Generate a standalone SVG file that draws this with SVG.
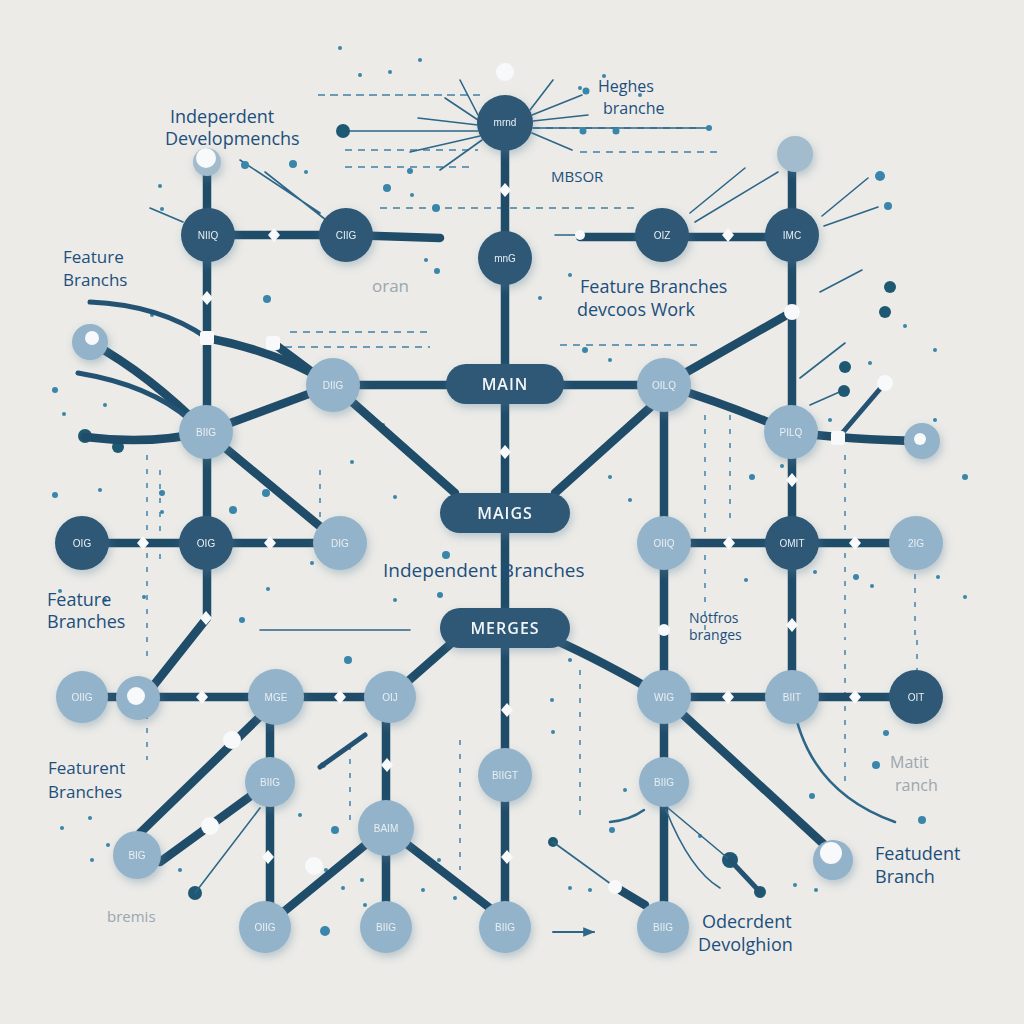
<svg xmlns="http://www.w3.org/2000/svg" width="1024" height="1024" viewBox="0 0 1024 1024">
<style>
.ln{fill:none;stroke:#1f4c69;stroke-width:8.5;stroke-linecap:round;stroke-linejoin:round}
.lm{fill:none;stroke:#245272;stroke-width:5;stroke-linecap:round}
.th{fill:none;stroke:#2c6688;stroke-width:1.6;stroke-linecap:round}
.ds{fill:none;stroke:#3f80a6;stroke-width:1.6;stroke-dasharray:7 6}
.dv{fill:none;stroke:#4a8ab0;stroke-width:1.6;stroke-dasharray:5 9}
.dk{fill:#2d5875}
.lt{fill:#93b3ca}
.lg{fill:#a3bccd}
.wd{fill:#f7f9fa}
.dot{fill:#3a86ab}
.dd{fill:#1f5873}
.nl{font-family:"Liberation Sans",Arial,sans-serif;font-size:10px;fill:#e9eff3;text-anchor:middle}
.pl{font-family:"Open Sans",sans-serif;font-size:16px;font-weight:600;fill:#f2f6f8;text-anchor:middle;letter-spacing:1px}
.lb{font-family:"Open Sans",sans-serif;font-size:18px;fill:#1c4f7d}
.gr{font-family:"Open Sans",sans-serif;font-size:17px;fill:#9aa7b0}
</style>
<defs>
<filter id="sh" x="-40%" y="-40%" width="180%" height="180%"><feDropShadow dx="2" dy="4" stdDeviation="4" flood-color="#5a7f98" flood-opacity="0.35"/></filter>
<marker id="ar" viewBox="0 0 10 10" refX="9" refY="5" markerWidth="6" markerHeight="6" orient="auto"><path d="M0,1 L10,5 L0,9 z" fill="#2c6688"/></marker>
<path id="dia" d="M0,-7 L6,0 L0,7 L-6,0 z" fill="#f8fafb"/>
</defs>
<rect width="1024" height="1024" fill="#ecebe7"/>

<g id="decor">
<path class="ds" d="M318,95 H480 M345,150 H478 M345,167 H470 M380,208 H640 M580,152 H720 M520,128 H700 M290,332 H430 M285,347 H430 M560,345 H700 M330,95 H480"/>
<path class="dv" d="M147,455 V660 M160,470 V560 M147,700 V760 M705,415 V630 M730,415 V520 M845,455 V640 M915,560 V640 M580,670 V820 M845,650 V790 M917,640 V700 M350,745 V820 M460,740 V870 M320,470 V520"/>
<path class="th" d="M478,115 L460,80 M478,120 L445,98 M478,125 L418,118 M478,131 L343,131 M480,136 L410,152 M482,140 L440,170 M530,110 L553,80 M532,115 L582,95 M533,121 L588,115 M533,128 L710,128 M532,133 L572,150 M320,213 L240,160 M326,220 L265,172 M183,222 L150,208 M690,213 L745,168 M695,222 L778,172 M822,216 L868,178 M824,226 L878,207 M820,292 L862,270 M800,378 L845,343 M810,405 L844,390 M260,630 H410 M555,235 L580,235"/>
<circle class="dd" cx="343" cy="131" r="7"/>
<circle class="dot" cx="583" cy="131" r="3.5"/><circle class="dot" cx="616" cy="131" r="3.5"/><circle class="dot" cx="709" cy="128" r="3"/>
<circle class="dot" cx="586" cy="91" r="3.5"/>
<circle class="dd" cx="890" cy="287" r="6"/><circle class="dd" cx="885" cy="312" r="6"/>
<circle class="dd" cx="845" cy="367" r="6"/><circle class="dd" cx="844" cy="391" r="6"/>
<circle class="dot" cx="880" cy="176" r="5"/><circle class="dot" cx="888" cy="206" r="4"/>
<circle class="dot" cx="245" cy="165" r="4"/><circle class="dot" cx="293" cy="164" r="4"/>
<circle class="dd" cx="85" cy="436" r="7"/><circle class="dd" cx="118" cy="447" r="6"/>
<circle class="dd" cx="195" cy="893" r="7"/><circle class="dd" cx="730" cy="860" r="8"/><circle class="dd" cx="760" cy="892" r="6"/>
<circle class="dd" cx="553" cy="842" r="5"/>
<g class="dot">
<circle cx="340" cy="48" r="2"/><circle cx="360" cy="75" r="2"/><circle cx="390" cy="72" r="2"/><circle cx="420" cy="60" r="2"/><circle cx="580" cy="88" r="2"/><circle cx="604" cy="76" r="2"/><circle cx="640" cy="95" r="2"/>
<circle cx="293" cy="164" r="3"/><circle cx="306" cy="172" r="2"/><circle cx="410" cy="171" r="3"/><circle cx="387" cy="188" r="4"/><circle cx="412" cy="195" r="2"/><circle cx="436" cy="208" r="4"/><circle cx="160" cy="186" r="2"/><circle cx="162" cy="209" r="2"/>
<circle cx="437" cy="271" r="3"/><circle cx="267" cy="299" r="4"/><circle cx="152" cy="315" r="2"/><circle cx="426" cy="260" r="2"/><circle cx="540" cy="298" r="2"/><circle cx="570" cy="275" r="2"/>
<circle cx="55" cy="390" r="3"/><circle cx="64" cy="414" r="2"/><circle cx="105" cy="405" r="2"/><circle cx="131" cy="439" r="2"/><circle cx="55" cy="495" r="3"/><circle cx="100" cy="490" r="2"/>
<circle cx="162" cy="493" r="3"/><circle cx="162" cy="512" r="2"/><circle cx="163" cy="545" r="2"/><circle cx="233" cy="510" r="4"/><circle cx="266" cy="493" r="4"/><circle cx="278" cy="492" r="2"/><circle cx="352" cy="462" r="2"/><circle cx="383" cy="425" r="2"/><circle cx="395" cy="497" r="2"/>
<circle cx="585" cy="350" r="3"/><circle cx="610" cy="360" r="2"/><circle cx="752" cy="477" r="3"/><circle cx="782" cy="466" r="2"/><circle cx="830" cy="420" r="2"/><circle cx="870" cy="363" r="2"/><circle cx="935" cy="420" r="2"/><circle cx="965" cy="477" r="3"/><circle cx="905" cy="326" r="2"/><circle cx="935" cy="350" r="2"/>
<circle cx="60" cy="591" r="2"/><circle cx="105" cy="600" r="2"/><circle cx="144" cy="597" r="2"/><circle cx="242" cy="620" r="3"/><circle cx="268" cy="589" r="2"/><circle cx="312" cy="563" r="2"/><circle cx="348" cy="660" r="4"/><circle cx="395" cy="600" r="2"/><circle cx="440" cy="595" r="3"/><circle cx="446" cy="555" r="4"/>
<circle cx="610" cy="477" r="2"/><circle cx="630" cy="500" r="2"/><circle cx="570" cy="660" r="2"/><circle cx="552" cy="700" r="2"/><circle cx="553" cy="732" r="2"/><circle cx="625" cy="790" r="2"/><circle cx="612" cy="830" r="3"/>
<circle cx="746" cy="580" r="2"/><circle cx="815" cy="572" r="2"/><circle cx="856" cy="577" r="3"/><circle cx="872" cy="586" r="2"/><circle cx="938" cy="577" r="2"/><circle cx="965" cy="597" r="2"/><circle cx="886" cy="733" r="3"/><circle cx="876" cy="765" r="4"/><circle cx="922" cy="820" r="4"/><circle cx="812" cy="796" r="3"/><circle cx="816" cy="890" r="2"/><circle cx="795" cy="885" r="2"/>
<circle cx="90" cy="818" r="2"/><circle cx="92" cy="860" r="2"/><circle cx="108" cy="845" r="2"/><circle cx="62" cy="828" r="2"/><circle cx="180" cy="870" r="2"/><circle cx="300" cy="815" r="2"/><circle cx="323" cy="765" r="3"/><circle cx="326" cy="870" r="2"/><circle cx="335" cy="830" r="4"/><circle cx="362" cy="880" r="2"/><circle cx="365" cy="905" r="2"/><circle cx="343" cy="888" r="2"/><circle cx="325" cy="931" r="5"/><circle cx="423" cy="890" r="2"/><circle cx="439" cy="860" r="2"/><circle cx="455" cy="898" r="2"/>
<circle cx="570" cy="888" r="2"/><circle cx="590" cy="890" r="2"/><circle cx="700" cy="836" r="2"/>
</g>
</g>

<g id="connectors">
<path class="ln" d="M505,123 V927"/>
<path class="ln" d="M207,160 V543"/>
<path class="ln" d="M207,543 V618 L150,690"/>
<path class="ln" d="M664,385 V927"/>
<path class="ln" d="M792,153 V697"/>
<path class="ln" d="M82,543 H340"/>
<path class="ln" d="M664,543 H916"/>
<path class="ln" d="M82,697 H390"/>
<path class="ln" d="M664,697 H916"/>
<path class="ln" d="M208,235 H346 L440,238"/>
<path class="ln" d="M580,237 H792"/>
<path class="ln" d="M207,338 Q280,352 333,385"/>
<path class="ln" d="M273,343 L320,378"/>
<path class="ln" d="M333,385 L206,432"/>
<path class="ln" d="M333,385 H447"/>
<path class="ln" d="M333,385 L455,493"/>
<path class="ln" d="M563,385 H664"/>
<path class="ln" d="M664,385 L792,312"/>
<path class="ln" d="M664,385 Q730,405 791,432"/>
<path class="ln" d="M555,493 L664,395"/>
<path class="ln" d="M791,432 Q850,440 922,441"/>
<path class="lm" d="M838,438 L885,383"/>
<path class="ln" d="M206,432 L340,543"/>
<path class="ln" d="M85,437 Q150,445 206,432"/>
<path class="ln" d="M90,342 Q150,375 206,432"/>
<path class="lm" d="M78,373 Q150,385 190,420"/>
<path class="lm" d="M90,302 Q160,305 207,338"/>
<path class="ln" d="M455,640 L390,697"/>
<path class="ln" d="M555,640 Q600,660 664,697"/>
<path class="ln" d="M664,697 L830,850"/>
<path class="ln" d="M140,833 L272,705"/>
<path class="ln" d="M160,862 L252,795"/>
<path class="ln" d="M270,697 V927"/>
<path class="ln" d="M386,697 V927"/>
<path class="ln" d="M265,927 L386,828"/>
<path class="ln" d="M386,828 L495,912"/>
<path class="lm" d="M320,767 L365,735"/>
<path class="th" d="M195,893 L260,808"/>
<path class="th" d="M792,697 Q805,790 895,822" style="stroke-width:2.5"/>
<path class="th" d="M668,808 L730,860"/>
<path class="lm" d="M730,860 L760,892"/>
<path class="th" d="M666,810 Q690,870 720,888"/>
<path class="th" d="M644,810 Q630,820 610,822" style="stroke-width:2.5"/>
<path class="th" d="M553,842 L615,887"/>
<path class="ln" d="M615,887 L645,905"/>
<path class="th" d="M553,932 L594,932" style="stroke-width:2" marker-end="url(#ar)"/>
<use href="#dia" x="505" y="190"/><use href="#dia" x="207" y="298"/><use href="#dia" x="274" y="235"/><use href="#dia" x="728" y="235"/>
<use href="#dia" x="505" y="452"/><use href="#dia" x="206" y="618"/><use href="#dia" x="270" y="543"/><use href="#dia" x="143" y="543"/>
<use href="#dia" x="202" y="697"/><use href="#dia" x="340" y="697"/><use href="#dia" x="387" y="765"/><use href="#dia" x="507" y="710"/>
<use href="#dia" x="507" y="857"/><use href="#dia" x="268" y="857"/><use href="#dia" x="728" y="697"/><use href="#dia" x="855" y="697"/>
<use href="#dia" x="729" y="543"/><use href="#dia" x="855" y="543"/><use href="#dia" x="792" y="480"/><use href="#dia" x="792" y="625"/>
<rect x="200" y="331" width="14" height="14" rx="3" class="wd"/><rect x="266" y="336" width="14" height="14" rx="3" class="wd"/><rect x="831" y="431" width="14" height="14" rx="3" class="wd"/>
<circle class="wd" cx="664" cy="630" r="6"/><circle class="wd" cx="792" cy="312" r="8"/><circle class="wd" cx="885" cy="383" r="8"/><circle class="wd" cx="615" cy="887" r="7"/>
<circle class="wd" cx="210" cy="826" r="9"/><circle class="wd" cx="232" cy="740" r="9"/><circle class="wd" cx="314" cy="866" r="9"/><circle class="wd" cx="580" cy="235" r="5"/>
<circle class="wd" cx="505" cy="72" r="9"/>
</g>

<g id="n1" filter="url(#sh)"><circle class="dk" cx="505" cy="123" r="28"/><text class="nl" x="505" y="126">mrnd</text></g>
<g id="n2" filter="url(#sh)"><circle class="dk" cx="208" cy="235" r="27"/><text class="nl" x="208" y="239">NIIQ</text></g>
<g id="n3" filter="url(#sh)"><circle class="dk" cx="346" cy="235" r="27"/><text class="nl" x="346" y="239">CIIG</text></g>
<g id="n4" filter="url(#sh)"><circle class="dk" cx="505" cy="258" r="27"/><text class="nl" x="505" y="262">mnG</text></g>
<g id="n5" filter="url(#sh)"><circle class="dk" cx="662" cy="235" r="27"/><text class="nl" x="662" y="239">OIZ</text></g>
<g id="n6" filter="url(#sh)"><circle class="dk" cx="792" cy="235" r="27"/><text class="nl" x="792" y="239">IMC</text></g>
<g id="n7" filter="url(#sh)"><circle class="lg" cx="795" cy="154" r="18"/></g>
<g id="n8" filter="url(#sh)"><circle class="lg" cx="207" cy="162" r="14"/><circle class="wd" cx="206" cy="158" r="10"/></g>
<g id="n9" filter="url(#sh)"><circle class="lt" cx="333" cy="385" r="27"/><text class="nl" x="333" y="389">DIIG</text></g>
<g id="n10" filter="url(#sh)"><circle class="lt" cx="206" cy="432" r="27"/><text class="nl" x="206" y="436">BIIG</text></g>
<g id="n11" filter="url(#sh)"><circle class="lt" cx="664" cy="385" r="27"/><text class="nl" x="664" y="389">OILQ</text></g>
<g id="n12" filter="url(#sh)"><circle class="lt" cx="791" cy="432" r="27"/><text class="nl" x="791" y="436">PILQ</text></g>
<g id="n13" filter="url(#sh)"><circle class="lt" cx="922" cy="441" r="18"/><circle class="wd" cx="920" cy="439" r="6"/></g>
<g id="n14" filter="url(#sh)"><circle class="lt" cx="90" cy="342" r="18"/><circle class="wd" cx="92" cy="338" r="7"/></g>
<g id="n15" filter="url(#sh)"><circle class="dk" cx="82" cy="543" r="27"/><text class="nl" x="82" y="547">OIG</text></g>
<g id="n16" filter="url(#sh)"><circle class="dk" cx="206" cy="543" r="27"/><text class="nl" x="206" y="547">OIG</text></g>
<g id="n17" filter="url(#sh)"><circle class="lt" cx="340" cy="543" r="27"/><text class="nl" x="340" y="547">DIG</text></g>
<g id="n18" filter="url(#sh)"><circle class="lt" cx="664" cy="543" r="27"/><text class="nl" x="664" y="547">OIIQ</text></g>
<g id="n19" filter="url(#sh)"><circle class="dk" cx="792" cy="543" r="27"/><text class="nl" x="792" y="547">OMIT</text></g>
<g id="n20" filter="url(#sh)"><circle class="lt" cx="916" cy="543" r="27"/><text class="nl" x="916" y="547">2IG</text></g>
<g id="n21" filter="url(#sh)"><circle class="lt" cx="82" cy="697" r="26"/><text class="nl" x="82" y="701">OIIG</text></g>
<g id="n22" filter="url(#sh)"><circle class="lt" cx="138" cy="698" r="22"/><circle class="wd" cx="136" cy="696" r="9"/></g>
<g id="n23" filter="url(#sh)"><circle class="lt" cx="276" cy="697" r="28"/><text class="nl" x="276" y="701">MGE</text></g>
<g id="n24" filter="url(#sh)"><circle class="lt" cx="390" cy="697" r="26"/><text class="nl" x="390" y="701">OIJ</text></g>
<g id="n25" filter="url(#sh)"><circle class="lt" cx="664" cy="697" r="27"/><text class="nl" x="664" y="701">WIG</text></g>
<g id="n26" filter="url(#sh)"><circle class="lt" cx="792" cy="697" r="27"/><text class="nl" x="792" y="701">BIIT</text></g>
<g id="n27" filter="url(#sh)"><circle class="dk" cx="916" cy="697" r="27"/><text class="nl" x="916" y="701">OIT</text></g>
<g id="n28" filter="url(#sh)"><circle class="lt" cx="505" cy="775" r="27"/><text class="nl" x="505" y="779">BIIGT</text></g>
<g id="n29" filter="url(#sh)"><circle class="lt" cx="270" cy="782" r="25"/><text class="nl" x="270" y="786">BIIG</text></g>
<g id="n30" filter="url(#sh)"><circle class="lt" cx="664" cy="782" r="25"/><text class="nl" x="664" y="786">BIIG</text></g>
<g id="n31" filter="url(#sh)"><circle class="lt" cx="137" cy="855" r="24"/><text class="nl" x="137" y="859">BIG</text></g>
<g id="n32" filter="url(#sh)"><circle class="lt" cx="386" cy="828" r="28"/><text class="nl" x="386" y="832">BAIM</text></g>
<g id="n33" filter="url(#sh)"><circle class="lt" cx="833" cy="860" r="20"/><circle class="wd" cx="831" cy="853" r="11"/></g>
<g id="n34" filter="url(#sh)"><circle class="lt" cx="265" cy="927" r="26"/><text class="nl" x="265" y="931">OIIG</text></g>
<g id="n35" filter="url(#sh)"><circle class="lt" cx="386" cy="927" r="26"/><text class="nl" x="386" y="931">BIIG</text></g>
<g id="n36" filter="url(#sh)"><circle class="lt" cx="505" cy="927" r="26"/><text class="nl" x="505" y="931">BIIG</text></g>
<g id="n37" filter="url(#sh)"><circle class="lt" cx="663" cy="927" r="26"/><text class="nl" x="663" y="931">BIIG</text></g>
<g id="p1" filter="url(#sh)"><rect class="dk" x="446" y="364" width="118" height="40" rx="20"/><text class="pl" x="505" y="390">MAIN</text></g>
<g id="p2" filter="url(#sh)"><rect class="dk" x="440" y="493" width="130" height="40" rx="20"/><text class="pl" x="505" y="519">MAIGS</text></g>
<g id="p3" filter="url(#sh)"><rect class="dk" x="440" y="608" width="130" height="40" rx="20"/><text class="pl" x="505" y="634">MERGES</text></g>

<g id="labels">
<text class="lb" x="170" y="123">Indeperdent</text>
<text class="lb" x="165" y="145">Developmenchs</text>
<text class="lb" x="598" y="92" style="font-size:16px">Heghes</text>
<text class="lb" x="603" y="114" style="font-size:16px">branche</text>
<text class="lb" x="551" y="182" style="font-size:15px">MBSOR</text>
<text class="gr" x="372" y="292">oran</text>
<text class="lb" x="580" y="293">Feature Branches</text>
<text class="lb" x="577" y="316">devcoos Work</text>
<text class="lb" x="63" y="263" style="font-size:17px">Feature</text>
<text class="lb" x="63" y="286" style="font-size:17px">Branchs</text>
<text class="lb" x="383" y="577" style="font-size:19px">Independent Branches</text>
<text class="lb" x="47" y="606">Feature</text>
<text class="lb" x="47" y="628">Branches</text>
<text class="lb" x="689" y="623" style="font-size:14px">Notfros</text>
<text class="lb" x="689" y="640" style="font-size:14px">branges</text>
<text class="lb" x="48" y="774" style="font-size:17px">Featurent</text>
<text class="lb" x="48" y="798" style="font-size:17px">Branches</text>
<text class="gr" x="107" y="922" style="font-size:15px">bremis</text>
<text class="gr" x="890" y="768" style="font-size:16px">Matit</text>
<text class="gr" x="895" y="791" style="font-size:16px">ranch</text>
<text class="lb" x="875" y="860">Featudent</text>
<text class="lb" x="875" y="883">Branch</text>
<text class="lb" x="702" y="928">Odecrdent</text>
<text class="lb" x="698" y="951">Devolghion</text>
</g>
</svg>
